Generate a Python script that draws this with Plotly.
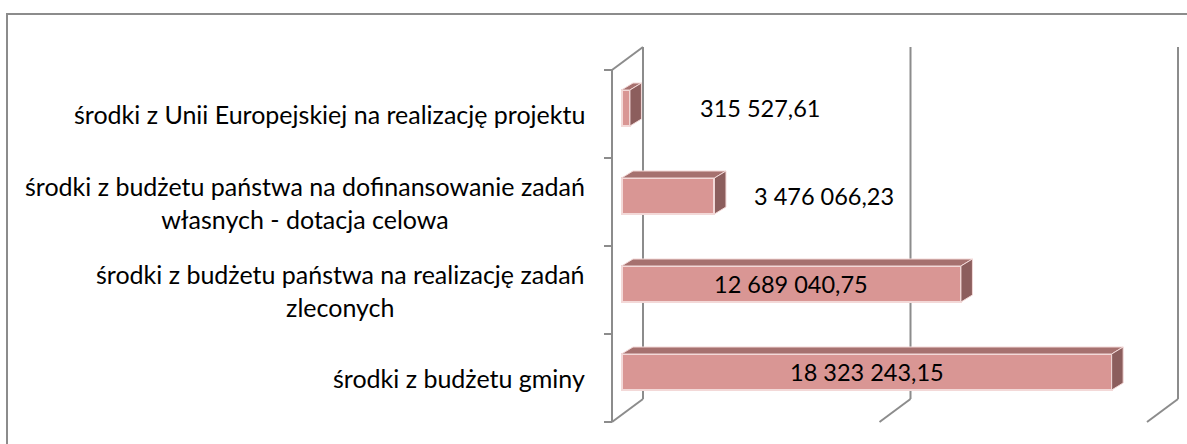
import plotly.graph_objects as go

# ---- data (bottom to top) ----
categories = [
    "środki z budżetu gminy",
    "środki z budżetu państwa na realizację zadań<br>zleconych",
    "środki z budżetu państwa na dofinansowanie zadań<br>własnych - dotacja celowa",
    "środki z Unii Europejskiej na realizację projektu",
]
values = [18323243.15, 12689040.75, 3476066.23, 315527.61]
value_labels = ["18 323 243,15", "12 689 040,75", "3 476 066,23", "315 527,61"]
grid_values = [0, 10_000_000, 20_000_000]

# ---- geometry (pixel mapping) ----
W, H = 1187, 444
X0_PX = 612              # front-plane x of value 0
K = (1147 - 612) / 20e6  # px per unit value
CAT_PX = 88              # px per category
CAT0_PX = 378            # front-plane y of first category centre

def dxv(px):
    return px / K

def dyv(px):
    return px / CAT_PX

xr = [-X0_PX / K, (W - X0_PX) / K]
yr = [(CAT0_PX - H) / CAT_PX, CAT0_PX / CAT_PX]

DEPTH_X, DEPTH_Y = 31, 23        # full floor depth in px
BAR_FRONT_X, BAR_FRONT_Y = 9.5, 6
BAR_DEPTH_X, BAR_DEPTH_Y = 11.5, 7
BAR_H = 36

grid_color = "#8c8c8c"
front_color = "#D99694"
top_color = "#A6716F"
side_color = "#8C5E5D"
edge_color = "#F3D9D8"
FONT = "Lato, 'Open Sans', sans-serif"
CAT_SIZE = 25
VAL_SIZE = 23.5

fig = go.Figure()

n = len(values)
ypos = list(range(n))
base = dxv(BAR_FRONT_X)
yc = [i + dyv(BAR_FRONT_Y) for i in ypos]
hh = dyv(BAR_H) / 2
ddx, ddy = dxv(BAR_DEPTH_X), dyv(BAR_DEPTH_Y)

# top and side faces derived from the values
for v, c in zip(values, yc):
    top_x = [base, base + v, base + v + ddx, base + ddx, base]
    top_y = [c + hh, c + hh, c + hh + ddy, c + hh + ddy, c + hh]
    fig.add_trace(go.Scatter(x=top_x, y=top_y, fill="toself", mode="lines",
                             fillcolor=top_color, line=dict(color=edge_color, width=1),
                             hoverinfo="skip", showlegend=False))
    side_x = [base + v, base + v, base + v + ddx, base + v + ddx, base + v]
    side_y = [c - hh, c + hh, c + hh + ddy, c - hh + ddy, c - hh]
    fig.add_trace(go.Scatter(x=side_x, y=side_y, fill="toself", mode="lines",
                             fillcolor=side_color, line=dict(color=edge_color, width=1),
                             hoverinfo="skip", showlegend=False))

# front faces
fig.add_trace(go.Bar(
    y=yc, x=values, base=[base] * n, orientation="h",
    width=dyv(BAR_H),
    marker=dict(color=front_color, line=dict(color=edge_color, width=2)),
    hoverinfo="skip", showlegend=False,
))

shapes = []
line = dict(color=grid_color, width=2)
ylo, yhi = -0.5, n - 0.5
D_X, D_Y = dxv(DEPTH_X), dyv(DEPTH_Y)
# front category axis + ticks
shapes.append(dict(type="line", xref="x", yref="y", x0=0, x1=0, y0=ylo, y1=yhi, line=line, layer="below"))
for k in range(n + 1):
    yy = ylo + k
    shapes.append(dict(type="line", xref="x", yref="y", x0=-dxv(8), x1=0, y0=yy, y1=yy, line=line, layer="below"))
# left wall top edge
shapes.append(dict(type="line", xref="x", yref="y", x0=0, x1=D_X, y0=yhi, y1=yhi + D_Y, line=line, layer="below"))
# back wall gridlines and floor diagonals
for g in grid_values:
    shapes.append(dict(type="line", xref="x", yref="y", x0=g + D_X, x1=g + D_X,
                       y0=ylo + D_Y, y1=yhi + D_Y, line=line, layer="below"))
    shapes.append(dict(type="line", xref="x", yref="y", x0=g, x1=g + D_X,
                       y0=ylo, y1=ylo + D_Y, line=line, layer="below"))
# outer frame
shapes.append(dict(type="rect", xref="paper", yref="paper",
                   x0=7 / W, x1=1.02, y0=-0.05, y1=1 - 14 / H,
                   line=dict(color=grid_color, width=2), layer="below"))

annotations = []
# category labels
for i, cat in enumerate(categories):
    annotations.append(dict(x=587 / W, xref="paper", y=i, yref="y", text=cat,
                            showarrow=False, xanchor="right", yanchor="middle", align="center",
                            font=dict(family=FONT, size=CAT_SIZE, color="#000000")))
# value labels
outside_shift = {2: 38, 3: 68}
for i, (v, lab, c) in enumerate(zip(values, value_labels, yc)):
    if i in outside_shift:
        annotations.append(dict(x=base + v, y=c, xref="x", yref="y", text=lab, showarrow=False,
                                xanchor="left", yanchor="middle", xshift=outside_shift[i],
                                font=dict(family=FONT, size=VAL_SIZE, color="#000000")))
    else:
        annotations.append(dict(x=base + v / 2, y=c, xref="x", yref="y", text=lab, showarrow=False,
                                xanchor="center", yanchor="middle",
                                font=dict(family=FONT, size=VAL_SIZE, color="#000000")))

fig.update_layout(
    width=W, height=H, autosize=False,
    margin=dict(l=0, r=0, t=0, b=0),
    paper_bgcolor="white", plot_bgcolor="white",
    xaxis=dict(range=xr, visible=False, fixedrange=True),
    yaxis=dict(range=yr, visible=False, fixedrange=True),
    shapes=shapes, annotations=annotations,
    showlegend=False, hovermode=False, bargap=0,
)

fig.write_html("out.html", config={"displayModeBar": False},
               post_script="document.body.style.margin='0';document.body.style.padding='0';")
